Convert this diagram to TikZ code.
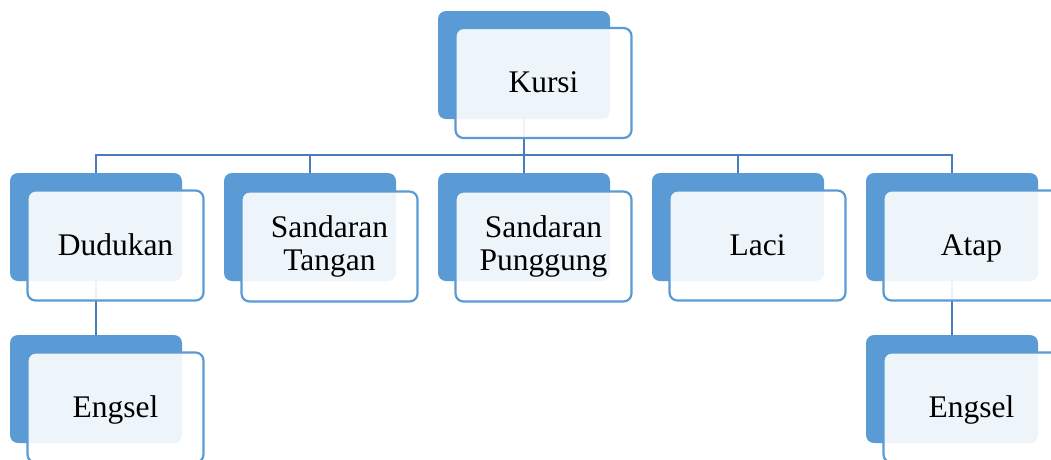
\documentclass[tikz,border=0pt]{standalone}
\usepackage{fontspec}
\setmainfont{Liberation Serif}
\definecolor{backblue}{HTML}{5B9BD5}
\definecolor{lineblue}{HTML}{4A7EBB}
\begin{document}
\begin{tikzpicture}[x=1pt,y=-1pt,
  backbox/.style={rectangle,rounded corners=8pt,fill=backblue,draw=none,
    minimum width=172pt,minimum height=108pt,inner sep=0pt},
  frontbox/.style={rectangle,rounded corners=8pt,draw=backblue,line width=2.2pt,
    fill=white,fill opacity=0.9,text opacity=1,
    minimum width=176pt,minimum height=110pt,inner sep=0pt,align=center,
    font=\fontsize{31.5}{33}\selectfont},
  oneline/.style={frontbox,text height=21.5pt,text depth=2.5pt},
  conn/.style={draw=lineblue,line width=2pt}]
\useasboundingbox (0,0) rectangle (1051,459);
\clip (0,0) rectangle (1051,459);
% back boxes
\node[backbox] (kb) at (524,65) {};
\node[backbox] (db) at (96,227) {};
\node[backbox] (tb) at (310,227) {};
\node[backbox] (pb) at (524,227) {};
\node[backbox] (lb) at (738,227) {};
\node[backbox] (ab) at (952,227) {};
\node[backbox] (eb1) at (96,389) {};
\node[backbox] (eb2) at (952,389) {};
% connectors
\coordinate (hub) at (524,155);
\draw[conn] (kb.south) -- (hub);
\draw[conn] (hub) -| (db.north);
\draw[conn] (hub) -| (tb.north);
\draw[conn] (hub) -- (pb.north);
\draw[conn] (hub) -| (lb.north);
\draw[conn] (hub) -| (ab.north);
\draw[conn] (db.south) -- (eb1.north);
\draw[conn] (ab.south) -- (eb2.north);
% front boxes
\node[oneline] (k) at (543.5,83) {Kursi};
\node[oneline] (d) at (115.5,245.5) {Dudukan};
\node[frontbox] (t) at (329.5,246.5) {Sandaran\\Tangan};
\node[frontbox] (p) at (543.5,246.5) {Sandaran\\Punggung};
\node[oneline] (l) at (757.5,245.5) {Laci};
\node[oneline] (a) at (971.5,245.5) {Atap};
\node[oneline] (e1) at (115.5,407.5) {Engsel};
\node[oneline] (e2) at (971.5,407.5) {Engsel};
\end{tikzpicture}
\end{document}
